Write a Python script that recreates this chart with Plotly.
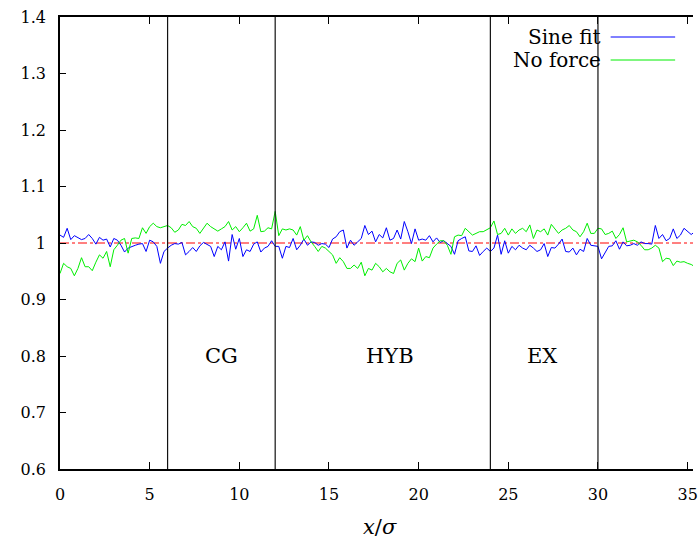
import plotly.graph_objects as go

# ---- data ----
x_start = 0.0
x_step = 0.2

sine_fit = [
    1.014, 1.010, 1.026, 1.006, 1.013, 1.010, 1.006, 1.008, 1.015, 1.008,
    0.998, 1.010, 1.005, 1.007, 0.993, 1.008, 1.005, 0.996, 0.984, 0.991,
    0.994, 0.996, 0.998, 0.999, 0.985, 1.005, 1.002, 0.994, 0.964, 0.985,
    0.991, 0.996, 0.999, 0.998, 1.001, 0.979,
    0.985, 0.992, 0.985, 0.995, 1.001, 0.998, 0.994, 0.976, 0.994, 0.988,
    1.002, 0.968, 1.015, 0.989, 1.008, 0.976, 0.988, 0.985, 0.998, 1.002,
    0.984, 0.991, 0.994, 1.004, 0.994, 0.994, 0.973, 0.994, 0.992, 1.008,
    0.988, 0.996, 1.007, 0.996, 1.002, 1.001,
    0.996, 0.999, 0.998, 0.992, 1.007, 1.011, 1.020, 1.023, 0.991, 1.005,
    0.996, 1.002, 1.008, 1.031, 1.015, 1.021, 1.002, 1.015, 1.009, 1.027,
    1.005, 1.008, 1.023, 1.007, 1.038, 1.020, 0.999, 1.025, 1.005, 1.007,
    1.005, 1.013, 1.002, 1.009, 1.001,
    1.004, 0.999, 0.994, 0.980, 1.004, 1.008, 1.011, 0.986, 0.985, 0.995,
    0.978, 0.985, 0.991, 0.985, 0.991, 1.014, 0.980, 1.004, 0.982, 0.994,
    0.988, 0.996, 0.991, 0.988, 0.996, 0.991, 0.985, 0.988, 0.999, 0.976,
    0.992, 0.991, 0.998, 1.007, 0.985, 0.984,
    0.991, 0.979, 0.989, 0.985, 1.008, 0.996, 0.995, 0.994, 0.972, 0.982,
    0.994, 0.995, 1.004, 0.989, 1.002, 0.995, 0.996, 0.999, 0.996, 1.002,
    0.999, 0.999, 0.998, 1.031, 1.008, 1.015, 1.004, 1.008, 1.025, 1.008,
    1.014, 1.026, 1.020, 1.015, 1.020, 1.012,
]

no_force = [
    0.946, 0.964, 0.958, 0.955, 0.942, 0.955, 0.974, 0.958, 0.958, 0.951,
    0.966, 0.979, 0.973, 0.985, 0.958, 0.988, 0.996, 1.005, 1.008, 0.982,
    1.008, 1.009, 1.008, 1.027, 1.017, 1.029, 1.035, 1.029, 1.027, 1.029,
    1.031, 1.027, 1.019, 1.023, 1.033, 1.031,
    1.038, 1.029, 1.026, 1.017, 1.025, 1.035, 1.029, 1.025, 1.021, 1.025,
    1.029, 1.038, 1.023, 1.029, 1.020, 1.027, 1.035, 1.021, 1.025, 1.049,
    1.020, 1.021, 1.027, 1.025, 1.056, 1.013, 1.025, 1.023, 1.025, 1.023,
    1.014, 1.029, 1.005, 1.013, 1.002, 0.994,
    0.985, 0.994, 0.991, 0.985, 0.979, 0.964, 0.974, 0.967, 0.955, 0.955,
    0.961, 0.955, 0.966, 0.942, 0.955, 0.952, 0.964, 0.958, 0.949, 0.955,
    0.949, 0.946, 0.964, 0.970, 0.952, 0.964, 0.972, 0.967, 0.991, 0.968,
    0.976, 0.974, 0.991, 0.998, 1.004,
    1.004, 0.996, 0.980, 1.011, 1.014, 1.013, 1.026, 1.020, 1.014, 1.017,
    1.020, 1.020, 1.023, 1.027, 1.039, 1.015, 1.017, 1.026, 1.014, 1.025,
    1.017, 1.023, 1.026, 1.020, 1.032, 1.008, 1.023, 1.020, 1.025, 1.014,
    1.033, 1.025, 1.017, 1.023, 1.026, 1.031,
    1.023, 1.020, 1.011, 1.020, 1.035, 1.017, 1.017, 1.026, 1.025, 1.015,
    1.017, 1.021, 1.008, 1.015, 1.027, 1.002, 1.004, 1.005, 1.002, 0.996,
    0.988, 0.988, 0.991, 0.996, 0.991, 0.967, 0.973, 0.972, 0.960, 0.968,
    0.966, 0.967, 0.964, 0.962, 0.958, 0.956,
]

x_vals = [round(x_start + i * x_step, 4) for i in range(len(sine_fit))]

region_bounds = [6, 12, 24, 30]
region_labels = ["CG", "HYB", "EX"]
region_label_x = [9, 18.4, 26.9]
region_label_y = 0.8
reference_level = 1.0

x_ticks = [0, 5, 10, 15, 20, 25, 30, 35]
y_ticks = [0.6, 0.7, 0.8, 0.9, 1.0, 1.1, 1.2, 1.3, 1.4]
y_tick_text = ["0.6", "0.7", "0.8", "0.9", "1", "1.1", "1.2", "1.3", "1.4"]

series_names = ["Sine fit", "No force"]
series_colors = ["#0000ff", "#00ee00"]

# ---- figure ----
FONT = "'DejaVu Serif', 'Liberation Serif', serif"
W, H = 698, 541
ML, MR, MT, MB = 60, 0, 17, 72
PW = W - ML - MR
PH = H - MT - MB
X_MAX = 35.3

fig = go.Figure()
for name, ys, col in zip(series_names, [sine_fit, no_force], series_colors):
    fig.add_trace(go.Scatter(x=x_vals, y=ys, mode="lines", name=name,
                             line=dict(color=col, width=1), showlegend=False))

shapes = []
shapes.append(dict(type="line", xref="paper", yref="y", x0=0, x1=1,
                   y0=reference_level, y1=reference_level,
                   line=dict(color="#ff0000", width=1, dash="dashdot"), layer="below"))
for b in region_bounds:
    shapes.append(dict(type="line", xref="x", yref="paper", x0=b, x1=b, y0=0, y1=1,
                       line=dict(color="#111111", width=1.2)))

annotations = []
for lab, lx in zip(region_labels, region_label_x):
    annotations.append(dict(x=lx, y=region_label_y, xref="x", yref="y", text=lab,
                            showarrow=False, font=dict(family=FONT, size=21, color="black")))

key_text_right = (607 - ML) / PW
key_line_x0 = (615 - ML) / PW
key_line_x1 = (680 - ML) / PW
for i, (name, col) in enumerate(zip(series_names, series_colors)):
    ypx = 37 + i * 23
    yp = 1 - (ypx - MT) / PH
    annotations.append(dict(x=key_text_right, y=yp, xref="paper", yref="paper", text=name,
                            showarrow=False, xanchor="right", yanchor="middle",
                            font=dict(family=FONT, size=20, color="black")))
    shapes.append(dict(type="line", xref="paper", yref="paper", x0=key_line_x0, x1=key_line_x1,
                       y0=yp, y1=yp, line=dict(color=col, width=1)))

annotations.append(dict(x=(383 - ML) / PW, y=1 - (527 - MT) / PH, xref="paper", yref="paper",
                        text="<i>x</i>/<i>σ</i>", showarrow=False, yanchor="middle",
                        font=dict(family=FONT, size=21, color="black")))

fig.update_layout(
    width=W, height=H,
    margin=dict(l=ML, r=MR, t=MT, b=MB, pad=0),
    paper_bgcolor="white", plot_bgcolor="white",
    font=dict(family=FONT, size=16, color="black"),
    shapes=shapes, annotations=annotations,
    showlegend=False,
)
fig.update_xaxes(range=[0, X_MAX], tickvals=x_ticks, ticks="inside", ticklen=7,
                 tickcolor="black", showline=True, linecolor="black", linewidth=1.5,
                 mirror="ticks", showgrid=False, zeroline=False, ticklabelstandoff=10,
                 ticklabeloverflow="allow",
                 tickfont=dict(family=FONT, size=16))
fig.update_yaxes(range=[0.6, 1.4], tickvals=y_ticks, ticktext=y_tick_text, ticks="inside",
                 ticklen=6, tickcolor="black", showline=True, linecolor="black", linewidth=1.5,
                 mirror=False, showgrid=False, zeroline=False, ticklabelstandoff=9,
                 tickfont=dict(family=FONT, size=16))

fig.write_html("out.html")
